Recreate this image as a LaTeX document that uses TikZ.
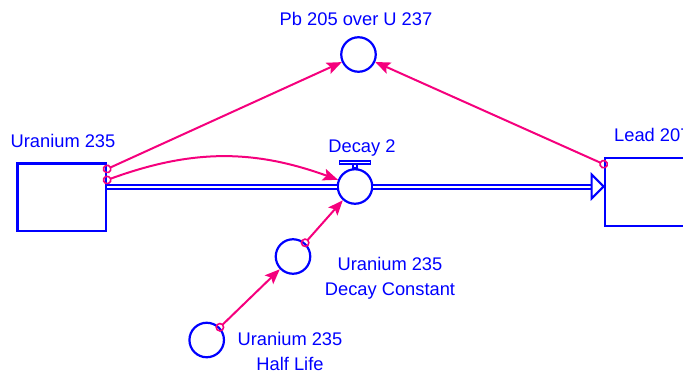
\documentclass[tikz,border=0pt]{standalone}
\usepackage{fontspec}
\setmainfont{Liberation Sans}
\usetikzlibrary{arrows.meta,calc}
\definecolor{simblue}{RGB}{0,0,255}
\definecolor{simpink}{RGB}{245,0,125}

\begin{document}
\begin{tikzpicture}[x=1pt,y=-1pt,
    stock/.style={draw=simblue, line width=2.2pt, minimum width=88.5pt,
                  minimum height=67.5pt, inner sep=0pt},
    aux/.style={draw=simblue, circle, line width=2.2pt, minimum size=34.5pt, inner sep=0pt},
    t/.style={text=simblue, font=\fontsize{18.3}{25}\selectfont, align=center,
              inner sep=0pt, anchor=base},
    pipe/.style={draw=simblue, double, double distance=2pt, line width=2pt},
    con/.style={simpink, line width=2pt, shorten <=-4.5pt,
                {Circle[open,length=9pt,width=9pt,line width=1.6pt]}-{Stealth[length=15pt,width=12pt,inset=3pt]}}]
    \useasboundingbox (0,0) rectangle (683,375);
    \clip (0,0) rectangle (683,375);
    % stocks and variables
    \node[stock] (u235) at (61.8,197.3) {};
    \node[stock] (lead) at (649,192) {};
    \node[aux] (dec) at (355,186.5) {};
    \node[aux] (pb)  at (358.5,54.5) {};
    \node[aux] (dc)  at (293,256.5) {};
    \node[aux] (hl)  at (206.7,340) {};
    % labels
    \node[t] (u235lbl) at (63,147.3)  {Uranium 235};
    \node[t, anchor=base west] (leadlbl) at (614,141.7) {Lead 207};
    \node[t] (declbl) at (362,152.3)  {Decay 2};
    \node[t] (pblbl)  at (356,25)     {Pb 205 over U 237};
    \node[t] (dclbl)  at (390,295)    {Uranium 235\\Decay Constant};
    \node[t] (hllbl)  at (290,370)    {Uranium 235\\Half Life};
    % flow pipe and valve
    \coordinate (ah) at (lead.west |- dec);
    \draw[pipe] (u235.east |- dec) -- (dec);
    \draw[pipe] (dec) -- ([xshift=-12pt]ah);
    \draw[simblue, line width=2pt, fill=white] (ah) -- ++(-12,-12) -- ++(0,24) -- cycle;
    \coordinate (vt) at ($(dec.north)+(0,-4)$);
    \draw[simblue, line width=1.5pt, fill=white] ($(vt)+(-2,0)$) rectangle ($(dec.north)+(2,0)$);
    \draw[simblue, line width=1.8pt, fill=white] ($(vt)+(-15.5,0)$) rectangle ($(vt)+(15.5,-3.5)$);
    % connectors
    \coordinate (u1) at ($(u235.north east)+(0,6.5)$);
    \coordinate (u2) at ($(u235.north east)+(0,17.5)$);
    \coordinate (l1) at ($(lead.north west)+(0,7)$);
    \draw[con] (u1) -- (pb);
    \draw[con] (u2) to[bend left=20] (dec);
    \draw[con] (l1) -- (pb);
    \draw[con] (dc) -- (dec);
    \draw[con] (hl) -- (dc);
\end{tikzpicture}
\end{document}
